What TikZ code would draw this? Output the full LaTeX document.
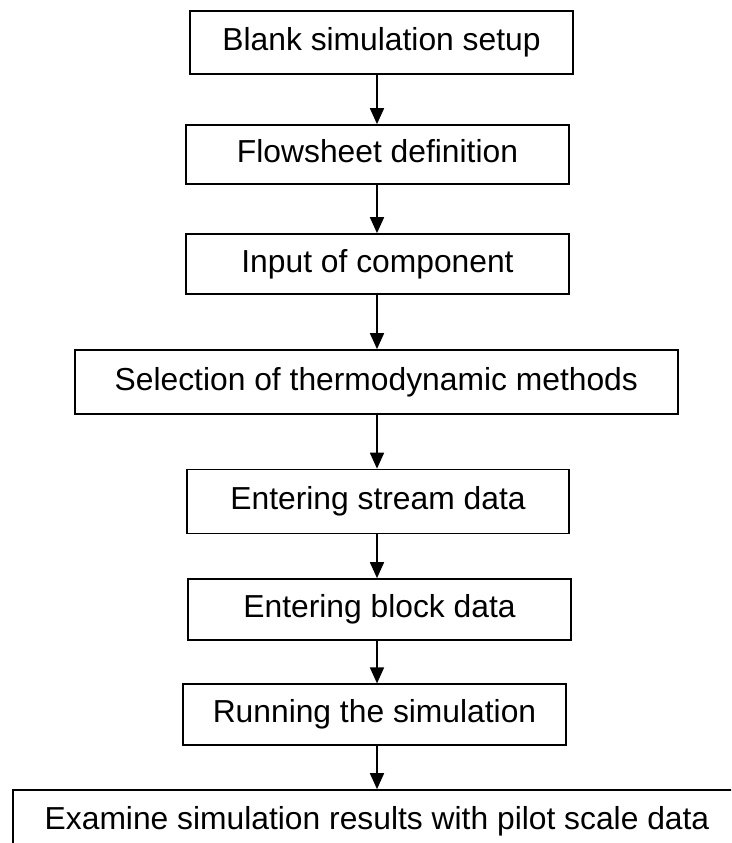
\documentclass[tikz,border=0pt]{standalone}
\usepackage{fontspec}
\setmainfont{Liberation Sans}
\usetikzlibrary{arrows.meta}
\begin{document}
\begin{tikzpicture}[x=1pt,y=-1pt,
  stepbox/.style={draw=black, line width=1.7pt, inner sep=0pt, align=center,
    font=\fontsize{31.8}{38}\selectfont, text height=22.8pt, text depth=6.5pt},
  arr/.style={draw=black, line width=1.7pt, -{Triangle[length=16pt,width=14pt]}}]
\useasboundingbox (0,0) rectangle (731,843);
\clip (0,0) rectangle (731,843);
\coordinate (ax) at (377,0);
\node[stepbox, minimum width=383pt, minimum height=63pt] (b1) at (381.5,42.25) {Blank simulation setup};
\node[stepbox, minimum width=383pt, minimum height=59pt] (b2) at (377.5,154.5) {Flowsheet definition};
\node[stepbox, minimum width=383pt, minimum height=60pt] (b3) at (377.5,264) {Input of component};
\node[stepbox, minimum width=603pt, minimum height=64pt] (b4) at (376.3,382) {Selection of thermodynamic methods};
\node[stepbox, minimum width=382pt, minimum height=64pt] (b5) at (378,501.5) {Entering stream data};
\node[stepbox, minimum width=383pt, minimum height=61pt] (b6) at (379.5,609.5) {Entering block data};
\node[stepbox, minimum width=383pt, minimum height=60.5pt] (b7) at (374.5,714.5) {Running the simulation};
\node[stepbox, minimum width=728pt, minimum height=63pt] (b8) at (377,821.5) {Examine simulation results with pilot scale data};
\draw[arr] (b1.south -| ax) -- (b2.north -| ax);
\draw[arr] (b2.south -| ax) -- (b3.north -| ax);
\draw[arr] (b3.south -| ax) -- (b4.north -| ax);
\draw[arr] (b4.south -| ax) -- (b5.north -| ax);
\draw[arr] (b5.south -| ax) -- (b6.north -| ax);
\draw[arr] (b6.south -| ax) -- (b7.north -| ax);
\draw[arr] (b7.south -| ax) -- (b8.north -| ax);
\end{tikzpicture}
\end{document}
